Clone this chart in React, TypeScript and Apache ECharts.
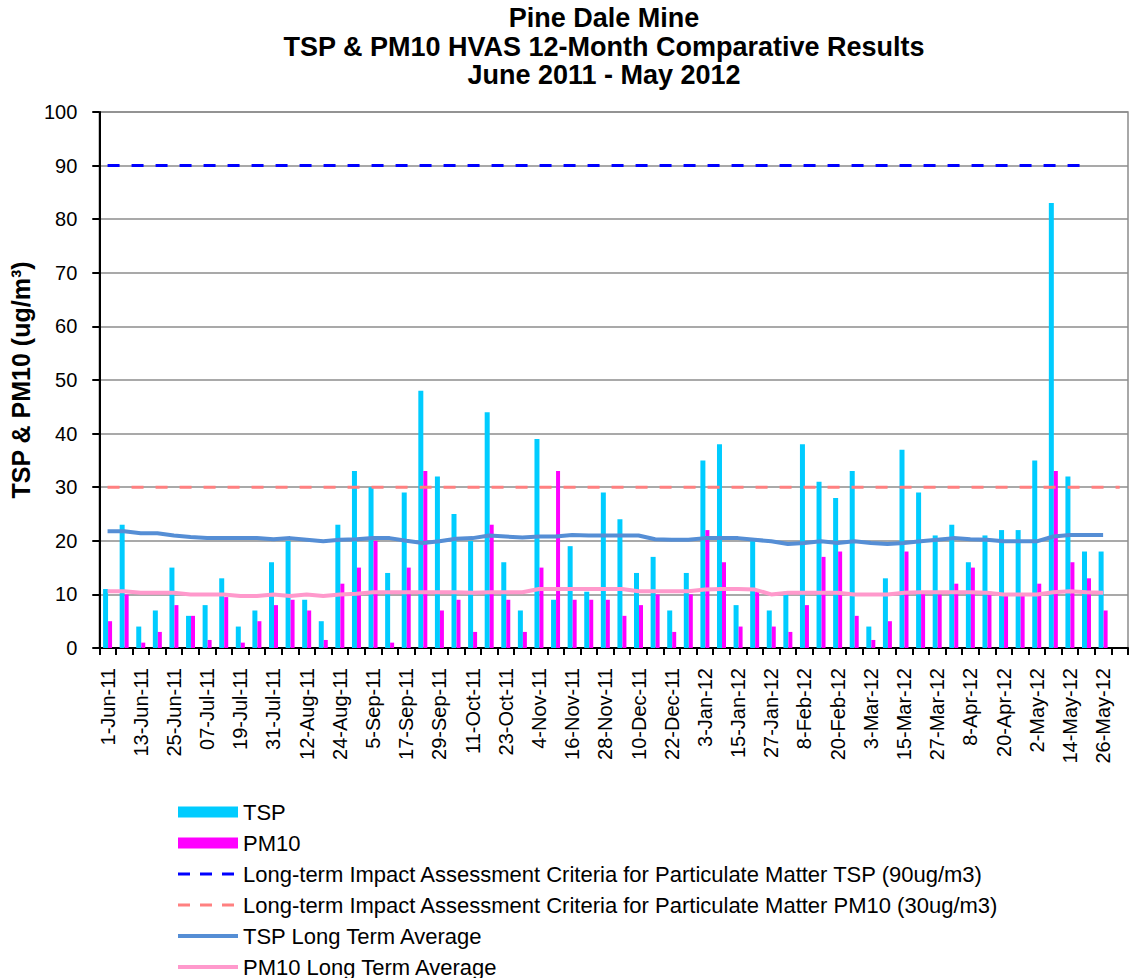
import React, { useEffect, useRef } from "react";
import * as echarts from "echarts";

const FONT = '"Liberation Sans", Arial, Helvetica, sans-serif';

const titleLines = [
  "Pine Dale Mine",
  "TSP & PM10 HVAS 12-Month Comparative Results",
  "June 2011 - May 2012",
];

const categories = [
  "1-Jun-11", "7-Jun-11", "13-Jun-11", "19-Jun-11", "25-Jun-11", "1-Jul-11",
  "07-Jul-11", "13-Jul-11", "19-Jul-11", "25-Jul-11", "31-Jul-11", "6-Aug-11",
  "12-Aug-11", "18-Aug-11", "24-Aug-11", "30-Aug-11", "5-Sep-11", "11-Sep-11",
  "17-Sep-11", "23-Sep-11", "29-Sep-11", "5-Oct-11", "11-Oct-11", "17-Oct-11",
  "23-Oct-11", "29-Oct-11", "4-Nov-11", "10-Nov-11", "16-Nov-11", "22-Nov-11",
  "28-Nov-11", "4-Dec-11", "10-Dec-11", "16-Dec-11", "22-Dec-11", "28-Dec-11",
  "3-Jan-12", "9-Jan-12", "15-Jan-12", "21-Jan-12", "27-Jan-12", "2-Feb-12",
  "8-Feb-12", "14-Feb-12", "20-Feb-12", "26-Feb-12", "3-Mar-12", "9-Mar-12",
  "15-Mar-12", "21-Mar-12", "27-Mar-12", "2-Apr-12", "8-Apr-12", "14-Apr-12",
  "20-Apr-12", "26-Apr-12", "2-May-12", "8-May-12", "14-May-12", "20-May-12",
  "26-May-12", "1-Jun-12",
];

const tspValues = [
  11, 23, 4, 7, 15, 6, 8, 13, 4, 7,
  16, 20, 9, 5, 23, 33, 30, 14, 29, 48,
  32, 25, 20, 44, 16, 7, 39, 9, 19, 10.5,
  29, 24, 14, 17, 7, 14, 35, 38, 8, 20,
  7, 10.5, 38, 31, 28, 33, 4, 13, 37, 29,
  21, 23, 16, 21, 22, 22, 35, 83, 32, 18,
  18,
];

const pm10Values = [
  5, 10, 1, 3, 8, 6, 1.5, 9.5, 1, 5,
  8, 9, 7, 1.5, 12, 15, 20, 1, 15, 33,
  7, 9, 3, 23, 9, 3, 15, 33, 9, 9,
  9, 6, 8, 10, 3, 10, 22, 16, 4, 10.5,
  4, 3, 8, 17, 18, 6, 1.5, 5, 18, 10.5,
  10, 12, 15, 10.5, 10, 10, 12, 33, 16, 13,
  7,
];

const tspAverage = [
  21.8, 21.8, 21.4, 21.4, 21.0, 20.7, 20.5, 20.5, 20.5, 20.5,
  20.3, 20.5, 20.2, 19.9, 20.2, 20.3, 20.5, 20.5, 20.0, 19.6,
  19.9, 20.4, 20.5, 21.0, 20.8, 20.6, 20.8, 20.8, 21.1, 21.0,
  21.0, 21.0, 21.0, 20.3, 20.2, 20.2, 20.5, 20.5, 20.5, 20.2,
  19.9, 19.4, 19.6, 19.9, 19.6, 19.9, 19.6, 19.4, 19.6, 19.9,
  20.2, 20.5, 20.3, 20.2, 19.9, 19.9, 19.9, 20.8, 21.1, 21.1,
  21.1,
];

const pm10Average = [
  10.6, 10.6, 10.3, 10.3, 10.3, 10.0, 10.0, 10.0, 9.7, 9.7,
  10.0, 9.7, 10.0, 9.7, 10.0, 10.1, 10.4, 10.4, 10.4, 10.4,
  10.4, 10.4, 10.3, 10.4, 10.4, 10.4, 11.0, 11.0, 11.0, 11.0,
  11.0, 11.0, 10.6, 10.6, 10.6, 10.6, 10.9, 11.0, 11.0, 10.9,
  10.0, 10.3, 10.3, 10.3, 10.3, 10.0, 10.0, 10.0, 10.3, 10.4,
  10.4, 10.4, 10.4, 10.3, 10.0, 10.0, 10.0, 10.4, 10.6, 10.4,
  10.3,
];

// Criteria levels (constant values) and how many categories each line spans
const TSP_CRITERION = 90;
const PM10_CRITERION = 30;
const TSP_CRITERION_SPAN = 60;
const PM10_CRITERION_SPAN = 62;

const seriesNames = {
  tsp: "TSP",
  pm10: "PM10",
  tspCrit: "Long-term Impact Assessment Criteria for Particulate Matter TSP (90ug/m3)",
  pm10Crit: "Long-term Impact Assessment Criteria for Particulate Matter PM10 (30ug/m3)",
  tspAvg: "TSP Long Term Average",
  pm10Avg: "PM10 Long Term Average",
};

const hiddenSymbol = { opacity: 0, color: "rgba(0,0,0,0)", borderWidth: 0 };

export default function App() {
  const ref = useRef<HTMLDivElement>(null);

  useEffect(() => {
    document.body.style.margin = "0";
    if (!ref.current) return;
    const chart = echarts.init(ref.current, undefined, { renderer: "svg" });

    const tspCritData = categories.slice(0, TSP_CRITERION_SPAN).map(() => TSP_CRITERION);
    const pm10CritData = categories.slice(0, PM10_CRITERION_SPAN).map(() => PM10_CRITERION);

    const option: any = {
      animation: false,
      backgroundColor: "#ffffff",
      textStyle: { fontFamily: FONT },
      graphic: titleLines.map((t, i) => ({
        type: "text",
        x: 604,
        y: 18 + i * 28.5,
        z: 10,
        style: {
          text: t,
          fontSize: 27,
          fontWeight: "bold",
          fontFamily: FONT,
          fill: "#000000",
          align: "center",
          verticalAlign: "middle",
        },
      })),
      grid: {
        left: 97,
        right: 6,
        top: 112,
        bottom: 330,
        show: true,
        borderColor: "#8c8c8c",
        borderWidth: 1.5,
        containLabel: false,
      },
      legend: {
        orient: "vertical",
        left: 176,
        top: 801,
        height: 200,
        padding: 0,
        itemWidth: 60,
        itemHeight: 11,
        itemGap: 9,
        selectedMode: false,
        textStyle: { fontSize: 22, color: "#000000", fontFamily: FONT },
        data: [
          { name: seriesNames.tsp, icon: "rect" },
          { name: seriesNames.pm10, icon: "rect" },
          { name: seriesNames.tspCrit, itemStyle: hiddenSymbol, lineStyle: { width: 3, type: [12, 10] } },
          { name: seriesNames.pm10Crit, itemStyle: hiddenSymbol, lineStyle: { width: 3, type: [12, 10] } },
          { name: seriesNames.tspAvg, itemStyle: hiddenSymbol, lineStyle: { width: 4 } },
          { name: seriesNames.pm10Avg, itemStyle: hiddenSymbol, lineStyle: { width: 4 } },
        ],
      },
      xAxis: {
        type: "category",
        data: categories,
        boundaryGap: true,
        axisLine: { show: true, lineStyle: { color: "#000000", width: 2 } },
        axisTick: { show: true, interval: 0, length: 7, lineStyle: { color: "#000000", width: 2 } },
        axisLabel: {
          interval: 1,
          rotate: 90,
          fontSize: 20,
          color: "#000000",
          margin: 20,
          fontFamily: FONT,
        },
        splitLine: { show: false },
      },
      yAxis: {
        type: "value",
        min: 0,
        max: 100,
        interval: 10,
        name: "TSP & PM10 (ug/m³)",
        nameLocation: "middle",
        nameGap: 62,
        nameRotate: 90,
        nameTextStyle: { fontSize: 25, fontWeight: "bold", color: "#000000", fontFamily: FONT },
        axisLine: { show: true, lineStyle: { color: "#000000", width: 2 } },
        axisTick: { show: true, length: 7, lineStyle: { color: "#000000", width: 2 } },
        axisLabel: { fontSize: 20, color: "#000000", margin: 22, fontFamily: FONT },
        splitLine: { show: true, lineStyle: { color: "#8c8c8c", width: 1.5 } },
      },
      series: [
        {
          name: seriesNames.tsp,
          type: "bar",
          data: tspValues,
          barWidth: 5,
          barGap: "0%",
          itemStyle: { color: "#00CCFF" },
          z: 2,
        },
        {
          name: seriesNames.pm10,
          type: "bar",
          data: pm10Values,
          barWidth: 4,
          barGap: "0%",
          itemStyle: { color: "#FF00FF" },
          z: 2,
        },
        {
          name: seriesNames.tspCrit,
          type: "line",
          data: tspCritData,
          symbol: "none",
          itemStyle: { color: "#0000FF" },
          lineStyle: { color: "#0000FF", width: 3, type: [12, 12] },
          z: 4,
        },
        {
          name: seriesNames.pm10Crit,
          type: "line",
          data: pm10CritData,
          symbol: "none",
          itemStyle: { color: "#FF8080" },
          lineStyle: { color: "#FF8080", width: 3, type: [12, 12] },
          z: 4,
        },
        {
          name: seriesNames.tspAvg,
          type: "line",
          data: tspAverage,
          symbol: "none",
          itemStyle: { color: "#558ED5" },
          lineStyle: { color: "#558ED5", width: 4 },
          z: 5,
        },
        {
          name: seriesNames.pm10Avg,
          type: "line",
          data: pm10Average,
          symbol: "none",
          itemStyle: { color: "#FF99CC" },
          lineStyle: { color: "#FF99CC", width: 4 },
          z: 5,
        },
      ],
    };

    chart.setOption(option);
    return () => {
      chart.dispose();
    };
  }, []);

  return <div ref={ref} style={{ width: 1134, height: 978 }} />;
}
